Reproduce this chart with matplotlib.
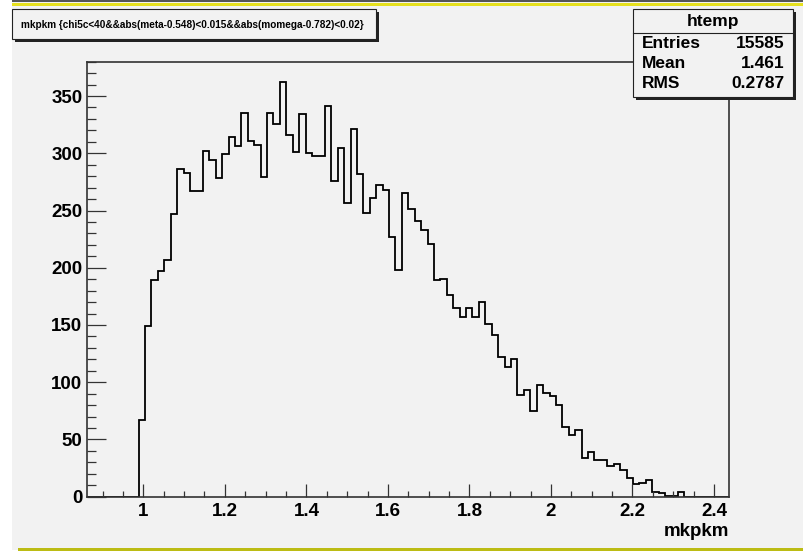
import matplotlib.pyplot as plt
import numpy as np
from matplotlib.patches import Rectangle
from matplotlib.ticker import MultipleLocator

# histogram of mkpkm, 100 bins
x_min = 0.8625
x_max = 2.4375
counts = [0] * 8 + [
    67, 149, 189, 197, 207, 247, 286, 283, 267, 267,
    302, 294, 278, 299, 314, 306, 335, 311, 307, 279,
    335, 326, 362, 316, 301, 334, 300, 298, 298, 341,
    276, 305, 257, 321, 282, 248, 261, 272, 268, 227,
    198, 265, 251, 241, 233, 221, 189, 190, 176, 165,
    157, 165, 157, 170, 151, 141, 122, 113, 120, 89,
    93, 75, 98, 91, 88, 80, 61, 54, 58, 34,
    39, 32, 32, 27, 29, 23, 16, 11, 12, 15,
    4, 3, 1, 1, 4] + [0] * 7

title = "mkpkm {chi5c<40&&abs(meta-0.548)<0.015&&abs(momega-0.782)<0.02}"
stat_names = ["Entries", "Mean", "RMS"]
stat_values = ["15585", "1.461", "0.2787"]

W, H = 804, 552
bg = '#f2f2f2'

plt.rcParams['font.family'] = ['Liberation Sans', 'DejaVu Sans']

fig = plt.figure(figsize=(W / 100, H / 100), dpi=100)
fig.patch.set_facecolor('white')


def fx(px):
    return px / W


def fy(py):
    return 1 - py / H


# canvas area and the coloured border lines
fig.patches.append(Rectangle((fx(12), fy(550)), fx(W - 12), 550 / H,
                             transform=fig.transFigure, facecolor=bg,
                             edgecolor='none', zorder=0))
fig.patches.append(Rectangle((fx(12), fy(2)), fx(W - 12), 2 / H,
                             transform=fig.transFigure, facecolor='#555555',
                             edgecolor='none', zorder=1))
fig.patches.append(Rectangle((fx(12), fy(5.5)), fx(W - 12), 2 / H,
                             transform=fig.transFigure, facecolor='#e6e01e',
                             edgecolor='none', zorder=1))
fig.patches.append(Rectangle((fx(18), fy(550.5)), fx(W - 18), 3 / H,
                             transform=fig.transFigure, facecolor='#bcbc14',
                             edgecolor='none', zorder=1))

ax = fig.add_axes([fx(87.3), fy(496.7), fx(729.3 - 87.3), (496.7 - 61.7) / H])
ax.set_zorder(2)
ax.set_facecolor(bg)

edges = np.linspace(x_min, x_max, len(counts) + 1)
ax.stairs(counts, edges, color='black', linewidth=1.3)

ax.set_xlim(x_min, x_max)
ax.set_ylim(0, 380)

ax.xaxis.set_major_locator(MultipleLocator(0.2))
ax.xaxis.set_minor_locator(MultipleLocator(0.05))
ax.yaxis.set_major_locator(MultipleLocator(50))
ax.yaxis.set_minor_locator(MultipleLocator(10))
ax.xaxis.set_major_formatter(plt.FuncFormatter(lambda v, p: ('%g' % round(v, 2))))

ax.tick_params(axis='x', which='major', direction='in', length=9.2, width=0.9,
               pad=4.5, labelsize=13.5, color='#333333')
ax.tick_params(axis='x', which='minor', direction='in', length=4.6, width=0.9,
               color='#333333')
ax.tick_params(axis='y', which='major', direction='in', length=13.5, width=0.9,
               pad=3.5, labelsize=13.5, color='#333333')
ax.tick_params(axis='y', which='minor', direction='in', length=6.8, width=0.9,
               color='#333333')
for lab in ax.get_xticklabels() + ax.get_yticklabels():
    lab.set_fontweight('bold')

for s in ax.spines.values():
    s.set_color('#333333')
    s.set_linewidth(1.2)

fig.text(fx(729), fy(531), 'mkpkm', ha='right', va='center',
         fontsize=13.5, fontweight='bold')

# title box with shadow
fig.patches.append(Rectangle((fx(14.7), fy(42.3)), fx(376 - 11.7), 30 / H,
                             transform=fig.transFigure, facecolor='#222222',
                             edgecolor='none', zorder=3))
fig.patches.append(Rectangle((fx(11.7), fy(39.3)), fx(376 - 11.7), 30 / H,
                             transform=fig.transFigure, facecolor=bg,
                             edgecolor='#222222', linewidth=0.8, zorder=4))
fig.text(fx(192), fy(24.5), title, ha='center', va='center', fontsize=7.2,
         fontweight='bold', zorder=5)

# stats box with shadow
fig.patches.append(Rectangle((fx(636.3), fy(99.7)), fx(160), 87.4 / H,
                             transform=fig.transFigure, facecolor='#222222',
                             edgecolor='none', zorder=3))
fig.patches.append(Rectangle((fx(633.3), fy(96.7)), fx(160), 87.4 / H,
                             transform=fig.transFigure, facecolor=bg,
                             edgecolor='#222222', linewidth=0.8, zorder=4))
fig.lines.append(plt.Line2D([fx(633.3), fx(793.3)], [fy(33.3), fy(33.3)],
                            transform=fig.transFigure, color='#222222',
                            linewidth=0.8, zorder=5))
fig.text(fx(713), fy(21.5), 'htemp', ha='center', va='center', fontsize=12.5,
         fontweight='bold', zorder=5)
for i, (n, v) in enumerate(zip(stat_names, stat_values)):
    yy = 43.5 + 20 * i
    fig.text(fx(641.5), fy(yy), n, ha='left', va='center', fontsize=12.5,
             fontweight='bold', zorder=5)
    fig.text(fx(785), fy(yy), v, ha='right', va='center', fontsize=12.5,
             fontweight='bold', zorder=5)

fig.savefig('out.png', dpi=100, facecolor=fig.get_facecolor())
